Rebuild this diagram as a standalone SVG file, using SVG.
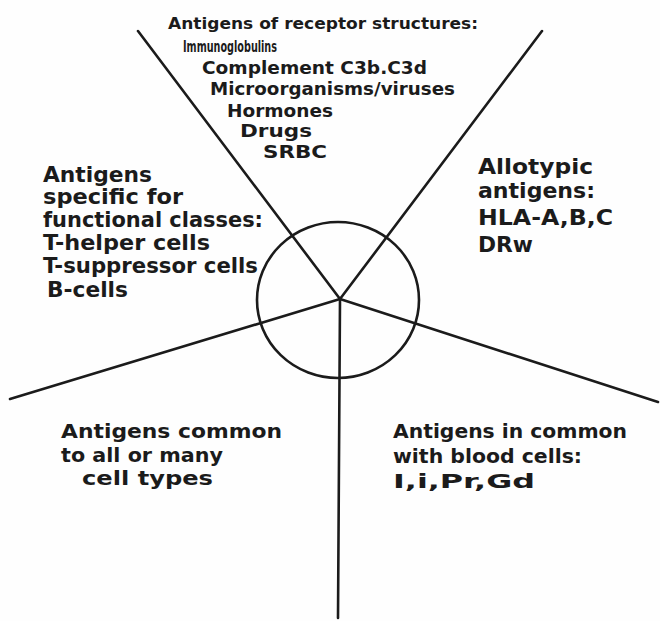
<svg xmlns="http://www.w3.org/2000/svg" width="660" height="621" viewBox="0 0 660 621">
<style>
.t{font-family:"DejaVu Sans","Liberation Sans",Arial,sans-serif;font-weight:bold;fill:#1b1b1b}
.s15{font-size:15px}
.s17{font-size:17px}
.s20{font-size:20px}
.s21{font-size:21px}
.ln{stroke:#1b1b1b;stroke-width:2.6;fill:none;stroke-linecap:round}
</style>
<rect width="660" height="621" fill="#fefefe"/>
<g id="connectors">
<line class="ln" x1="340" y1="299" x2="138" y2="31"/>
<line class="ln" x1="340" y1="299" x2="542" y2="31"/>
<line class="ln" x1="340" y1="299" x2="10" y2="399"/>
<line class="ln" x1="340" y1="299" x2="658" y2="402"/>
<line class="ln" x1="340" y1="299" x2="338" y2="618"/>
</g>
<g id="center-circle">
<ellipse class="ln" cx="338" cy="300" rx="81" ry="78"/>
</g>
<g id="receptor-antigens" class="t">
<text class="s15" x="168" y="29" textLength="310" lengthAdjust="spacingAndGlyphs">Antigens of receptor structures:</text>
<text class="s15" x="183" y="52" textLength="94" lengthAdjust="spacingAndGlyphs">Immunoglobulins</text>
<text class="s17" x="202" y="74" textLength="225" lengthAdjust="spacingAndGlyphs">Complement C3b.C3d</text>
<text class="s17" x="210" y="95" textLength="245" lengthAdjust="spacingAndGlyphs">Microorganisms/viruses</text>
<text class="s17" x="227" y="117" textLength="106" lengthAdjust="spacingAndGlyphs">Hormones</text>
<text class="s17" x="240" y="137" textLength="72" lengthAdjust="spacingAndGlyphs">Drugs</text>
<text class="s17" x="263" y="158" textLength="64" lengthAdjust="spacingAndGlyphs">SRBC</text>
</g>
<g id="functional-class-antigens" class="t">
<text class="s21" x="43" y="182" textLength="109" lengthAdjust="spacingAndGlyphs">Antigens</text>
<text class="s21" x="43" y="204" textLength="140" lengthAdjust="spacingAndGlyphs">specific for</text>
<text class="s21" x="43" y="227" textLength="220" lengthAdjust="spacingAndGlyphs">functional classes:</text>
<text class="s21" x="43" y="250" textLength="167" lengthAdjust="spacingAndGlyphs">T-helper cells</text>
<text class="s21" x="43" y="273" textLength="215" lengthAdjust="spacingAndGlyphs">T-suppressor cells</text>
<text class="s21" x="47" y="297" textLength="81" lengthAdjust="spacingAndGlyphs">B-cells</text>
</g>
<g id="allotypic-antigens" class="t">
<text class="s21" x="478" y="174" textLength="115" lengthAdjust="spacingAndGlyphs">Allotypic</text>
<text class="s21" x="478" y="198" textLength="117" lengthAdjust="spacingAndGlyphs">antigens:</text>
<text class="s21" x="478" y="225" textLength="135" lengthAdjust="spacingAndGlyphs">HLA-A,B,C</text>
<text class="s21" x="478" y="252" textLength="55" lengthAdjust="spacingAndGlyphs">DRw</text>
</g>
<g id="common-antigens" class="t">
<text class="s20" x="61" y="438" textLength="221" lengthAdjust="spacingAndGlyphs">Antigens common</text>
<text class="s20" x="61" y="462" textLength="162" lengthAdjust="spacingAndGlyphs">to all or many</text>
<text class="s20" x="82" y="485" textLength="131" lengthAdjust="spacingAndGlyphs">cell types</text>
</g>
<g id="blood-cell-antigens" class="t">
<text class="s20" x="393" y="438" textLength="234" lengthAdjust="spacingAndGlyphs">Antigens in common</text>
<text class="s20" x="393" y="463" textLength="189" lengthAdjust="spacingAndGlyphs">with blood cells:</text>
<text class="s20" x="393" y="488" textLength="142" lengthAdjust="spacingAndGlyphs">I,i,Pr,Gd</text>
</g>
</svg>
